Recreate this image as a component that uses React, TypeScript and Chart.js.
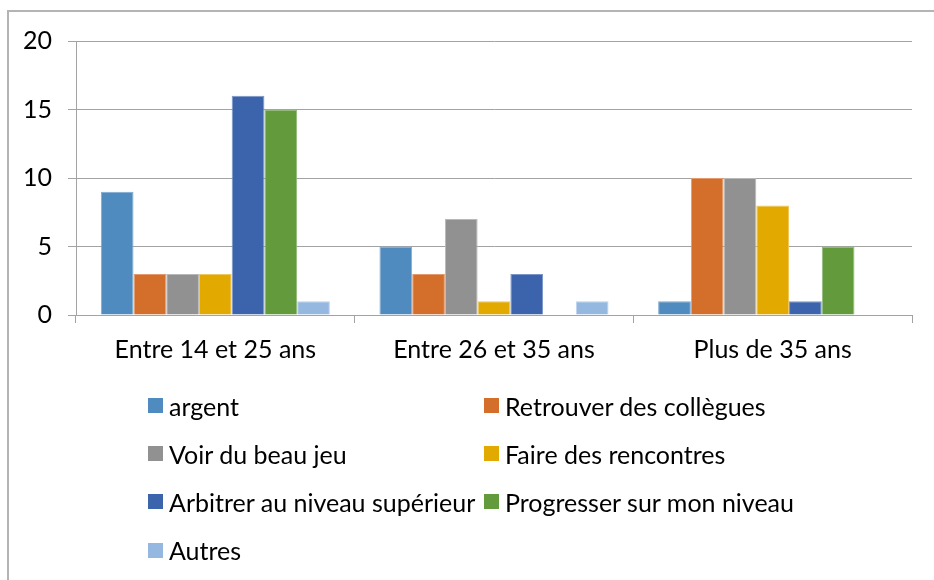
import React, { useEffect, useRef } from "react";
import { Chart, registerables } from "chart.js";

Chart.register(...registerables);

const categories = ["Entre 14 et 25 ans", "Entre 26 et 35 ans", "Plus de 35 ans"];
const seriesNames = [
  "argent",
  "Retrouver des collègues",
  "Voir du beau jeu",
  "Faire des rencontres",
  "Arbitrer au niveau supérieur",
  "Progresser sur mon niveau",
  "Autres",
];
const argent = [9, 5, 1];
const retrouver = [3, 3, 10];
const voir = [3, 7, 10];
const faire = [3, 1, 8];
const arbitrer = [16, 3, 1];
const progresser = [15, 0, 5];
const autres = [1, 1, 0];
const seriesValues = [argent, retrouver, voir, faire, arbitrer, progresser, autres];
const yTicks = [0, 5, 10, 15, 20];

const colors = ["#4F8BBE", "#D46F2B", "#919191", "#E2A900", "#3C64AD", "#629A3C", "#95B8E0"];
const edgeColors = ["#7FA9D2", "#E49A6C", "#B8B8B8", "#EEC760", "#7C95C8", "#91B97A", "#BCD2EC"];

const FONT = "Lato, 'Open Sans', sans-serif";
const FONT_SIZE = 25;
const AXIS_GRAY = "#a3a3a3";

export default function App() {
  const canvasRef = useRef<HTMLCanvasElement | null>(null);

  useEffect(() => {
    const canvas = canvasRef.current;
    if (!canvas) return;
    const chart = new Chart(canvas, {
      type: "bar",
      data: {
        labels: categories,
        datasets: seriesNames.map((name, i) => ({
          label: name,
          data: seriesValues[i],
          backgroundColor: colors[i],
          borderColor: edgeColors[i],
          borderWidth: (c: any) => (c.raw ? 1 : 0),
          barPercentage: 1,
          categoryPercentage: 0.822,
        })),
      },
      options: {
        responsive: false,
        animation: false,
        devicePixelRatio: 1,
        layout: { padding: { top: 41, right: 22, left: 0, bottom: 0 } },
        plugins: {
          legend: { display: false },
          tooltip: { enabled: false },
          title: { display: false },
        },
        scales: {
          x: {
            grid: {
              drawOnChartArea: false,
              drawTicks: true,
              tickLength: 8,
              color: AXIS_GRAY,
              offset: true,
            },
            border: { display: true, color: AXIS_GRAY, width: 1 },
            ticks: {
              color: "#000",
              font: { family: FONT, size: FONT_SIZE },
              padding: 12,
              maxRotation: 0,
            },
            afterFit: (s: any) => {
              s.height = 265;
            },
          },
          y: {
            min: 0,
            max: 20,
            afterBuildTicks: (s: any) => {
              s.ticks = yTicks.map((v) => ({ value: v }));
            },
            grid: {
              color: AXIS_GRAY,
              tickLength: 8,
              drawTicks: true,
            },
            border: { display: true, color: AXIS_GRAY, width: 1 },
            ticks: {
              color: "#000",
              font: { family: FONT, size: FONT_SIZE },
              padding: 16,
            },
            afterFit: (s: any) => {
              s.width = 76;
            },
          },
        },
      },
    });
    return () => chart.destroy();
  }, []);

  return (
    <div
      style={{
        position: "absolute",
        left: 0,
        top: 0,
        width: 934,
        height: 580,
        overflow: "hidden",
        background: "#fff",
      }}
    >
      <div
        style={{
          position: "absolute",
          left: 7,
          top: 10,
          width: 1000,
          height: 700,
          borderLeft: "2px solid #b4b4b4",
          borderTop: "2px solid #b4b4b4",
        }}
      />
      <canvas
        ref={canvasRef}
        width={934}
        height={580}
        style={{ position: "absolute", left: 0, top: 0, width: 934, height: 580 }}
      />
      {seriesNames.map((name, i) => {
        const col = i % 2;
        const row = Math.floor(i / 2);
        const left = 148 + col * 336;
        const cy = 405.5 + row * 48.2;
        return (
          <div
            key={name}
            style={{
              position: "absolute",
              left,
              top: cy - 16,
              height: 32,
              display: "flex",
              alignItems: "center",
              whiteSpace: "nowrap",
              fontFamily: FONT,
              fontSize: FONT_SIZE,
              color: "#000",
            }}
          >
            <span
              style={{
                display: "inline-block",
                width: 15,
                height: 15,
                background: colors[i],
                marginRight: 6,
              }}
            />
            <span>{name}</span>
          </div>
        );
      })}
    </div>
  );
}
